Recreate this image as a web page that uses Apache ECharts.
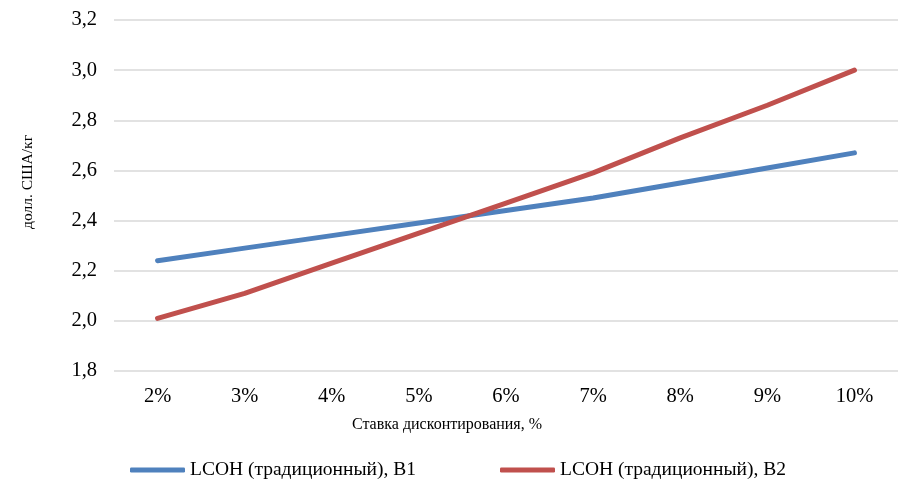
<!DOCTYPE html>
<html>
<head>
<meta charset="utf-8">
<script src="https://cdn.jsdelivr.net/npm/echarts@6/dist/echarts.min.js"></script>
<style>
  html, body { margin: 0; padding: 0; background: #fff; }
  #chart { width: 898px; height: 490px; }
</style>
</head>
<body>
<div id="chart"></div>
<script>
// данные графика
const rates = ['2%', '3%', '4%', '5%', '6%', '7%', '8%', '9%', '10%']
const lcohB1 = [2.24, 2.29, 2.34, 2.39, 2.44, 2.49, 2.55, 2.61, 2.67]
const lcohB2 = [2.01, 2.11, 2.23, 2.35, 2.47, 2.59, 2.73, 2.86, 3.00]
const nameB1 = 'LCOH (традиционный), B1'
const nameB2 = 'LCOH (традиционный), B2'

const font = '"Liberation Serif", "Times New Roman", serif'
const chart = echarts.init(document.getElementById('chart'))

chart.setOption({
  animation: false,
  textStyle: { fontFamily: font },
  grid: { left: 114, right: -7, top: 20, bottom: 119 },
  legend: {
    left: 125,
    top: 455,
    itemWidth: 55,
    itemHeight: 5,
    itemGap: 84,
    icon: 'roundRect',
    textStyle: { fontFamily: font, fontSize: 19.5, color: '#000' },
    data: [nameB1, nameB2]
  },
  xAxis: {
    type: 'category',
    data: rates,
    boundaryGap: true,
    axisLine: { show: false },
    axisTick: { show: false },
    axisLabel: { fontFamily: font, fontSize: 20.5, color: '#000', margin: 15 }
  },
  yAxis: {
    type: 'value',
    min: 1.8,
    max: 3.2,
    interval: 0.2,
    axisLine: { show: false },
    axisTick: { show: false },
    splitLine: { lineStyle: { color: '#d9d9d9', width: 1.5 } },
    axisLabel: {
      fontFamily: font, fontSize: 20.5, color: '#000', margin: 17,
      formatter: v => v.toFixed(1).replace('.', ',')
    }
  },
  graphic: [
    {
      type: 'text',
      x: 28, y: 182, rotation: Math.PI / 2,
      style: { text: 'долл. США/кг', font: '15.5px ' + font, fill: '#000', align: 'center', verticalAlign: 'middle' }
    },
    {
      type: 'text',
      x: 447, y: 425,
      style: { text: 'Ставка дисконтирования, %', font: '16px ' + font, fill: '#000', align: 'center', verticalAlign: 'middle' }
    }
  ],
  series: [
    {
      name: nameB1,
      type: 'line',
      data: lcohB1,
      showSymbol: false,
      symbol: 'none',
      color: '#4F81BD',
      lineStyle: { width: 5, cap: 'round', color: '#4F81BD' }
    },
    {
      name: nameB2,
      type: 'line',
      data: lcohB2,
      showSymbol: false,
      symbol: 'none',
      color: '#C0504D',
      lineStyle: { width: 5, cap: 'round', color: '#C0504D' }
    }
  ]
})
</script>
</body>
</html>
